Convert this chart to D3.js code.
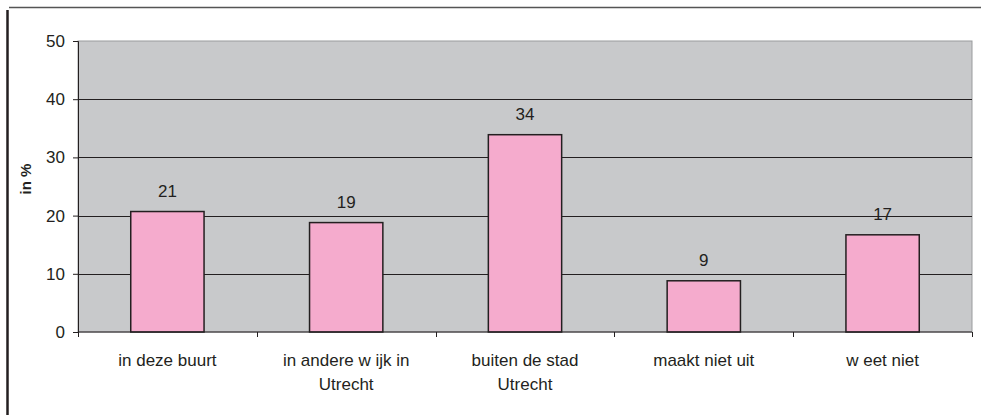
<!DOCTYPE html>
<html>
<head>
<meta charset="utf-8">
<script src="https://cdn.jsdelivr.net/npm/d3@7"></script>
<style>
  body { margin: 0; background: #fff; }
  text { font-family: "Liberation Sans", Arial, sans-serif; fill: #231f20; }
</style>
</head>
<body>
<div id="chart"></div>
<script>
// data
let categories = [["in deze buurt"], ["in andere w ijk in", "Utrecht"], ["buiten de stad", "Utrecht"], ["maakt niet uit"], ["w eet niet"]];
let values = [20.7, 18.8, 33.9, 8.8, 16.7];
let labels = ["21", "19", "34", "9", "17"];
let yTicks = [0, 10, 20, 30, 40, 50];

let width = 981, height = 415,
    margin = {top: 41, right: 9, bottom: 83, left: 78};
let plotW = width - margin.left - margin.right,
    plotH = height - margin.top - margin.bottom;

let svg = d3.select("#chart").append("svg")
    .attr("width", width)
    .attr("height", height);

// frame lines
svg.append("line").attr("x1", 9).attr("x2", width).attr("y1", 7.5).attr("y2", 7.5)
    .attr("stroke", "#555").attr("stroke-width", 1.5);
svg.append("line").attr("x1", 7.5).attr("x2", 7.5).attr("y1", 10).attr("y2", height)
    .attr("stroke", "#231f20").attr("stroke-width", 2.5);

let g = svg.append("g")
    .attr("transform", "translate(" + margin.left + "," + margin.top + ")");

let x = d3.scaleBand()
    .domain(d3.range(categories.length))
    .range([0, plotW])
    .paddingInner(0.59)
    .paddingOuter(0.295);
let y = d3.scaleLinear()
    .domain([0, 50])
    .range([plotH, 0]);

// plot background
g.append("rect")
    .attr("width", plotW).attr("height", plotH)
    .attr("fill", "#c8c9cb")
    .attr("stroke", "#9a9b9d");

// gridlines
g.selectAll(".grid")
    .data(yTicks.filter(d => d > 0 && d < 50))
    .enter().append("line")
    .attr("x1", 0).attr("x2", plotW)
    .attr("y1", d => Math.round(y(d)) + 0.5).attr("y2", d => Math.round(y(d)) + 0.5)
    .attr("stroke", "#231f20");

// bars
g.selectAll(".bar")
    .data(values)
    .enter().append("rect")
    .attr("x", (d, i) => x(i))
    .attr("y", d => y(d))
    .attr("width", x.bandwidth())
    .attr("height", d => plotH - y(d))
    .attr("fill", "#f5abcd")
    .attr("stroke", "#231f20")
    .attr("stroke-width", 1.5);

// value labels
g.selectAll(".val")
    .data(values)
    .enter().append("text")
    .attr("x", (d, i) => x(i) + x.bandwidth() / 2)
    .attr("y", d => y(d) - 15)
    .attr("text-anchor", "middle")
    .style("font-size", "17px")
    .text((d, i) => labels[i]);

// y axis
let yAxis = g.append("g")
    .call(d3.axisLeft(y).tickValues(yTicks).tickSize(5).tickPadding(8));
yAxis.select(".domain").attr("stroke", "#231f20");
yAxis.selectAll("line").attr("stroke", "#231f20");
yAxis.selectAll("text").style("font-size", "17px").style("font-family", "Liberation Sans, Arial, sans-serif").attr("fill", "#231f20");

// x axis: ticks at category boundaries
let step = plotW / categories.length;
let xg = g.append("g").attr("transform", "translate(0," + plotH + ")");
xg.append("line").attr("x1", 0).attr("x2", plotW).attr("stroke", "#231f20");
xg.selectAll(".tk")
    .data(d3.range(categories.length + 1))
    .enter().append("line")
    .attr("x1", d => Math.round(d * step) + 0.5).attr("x2", d => Math.round(d * step) + 0.5)
    .attr("y1", 0).attr("y2", 5)
    .attr("stroke", "#231f20");

xg.selectAll(".cat")
    .data(categories)
    .enter().append("text")
    .attr("x", (d, i) => x(i) + x.bandwidth() / 2)
    .attr("y", 0)
    .attr("text-anchor", "middle")
    .style("font-size", "17px")
    .each(function(d) {
        d3.select(this).selectAll("tspan")
            .data(d).enter().append("tspan")
            .attr("x", d3.select(this).attr("x"))
            .attr("y", (t, j) => 34 + j * 24)
            .text(t => t);
    });

// y axis title
svg.append("text")
    .attr("transform", "translate(31,179) rotate(-90)")
    .attr("text-anchor", "middle")
    .style("font-size", "15px")
    .style("font-weight", "bold")
    .text("in %");
</script>
</body>
</html>
